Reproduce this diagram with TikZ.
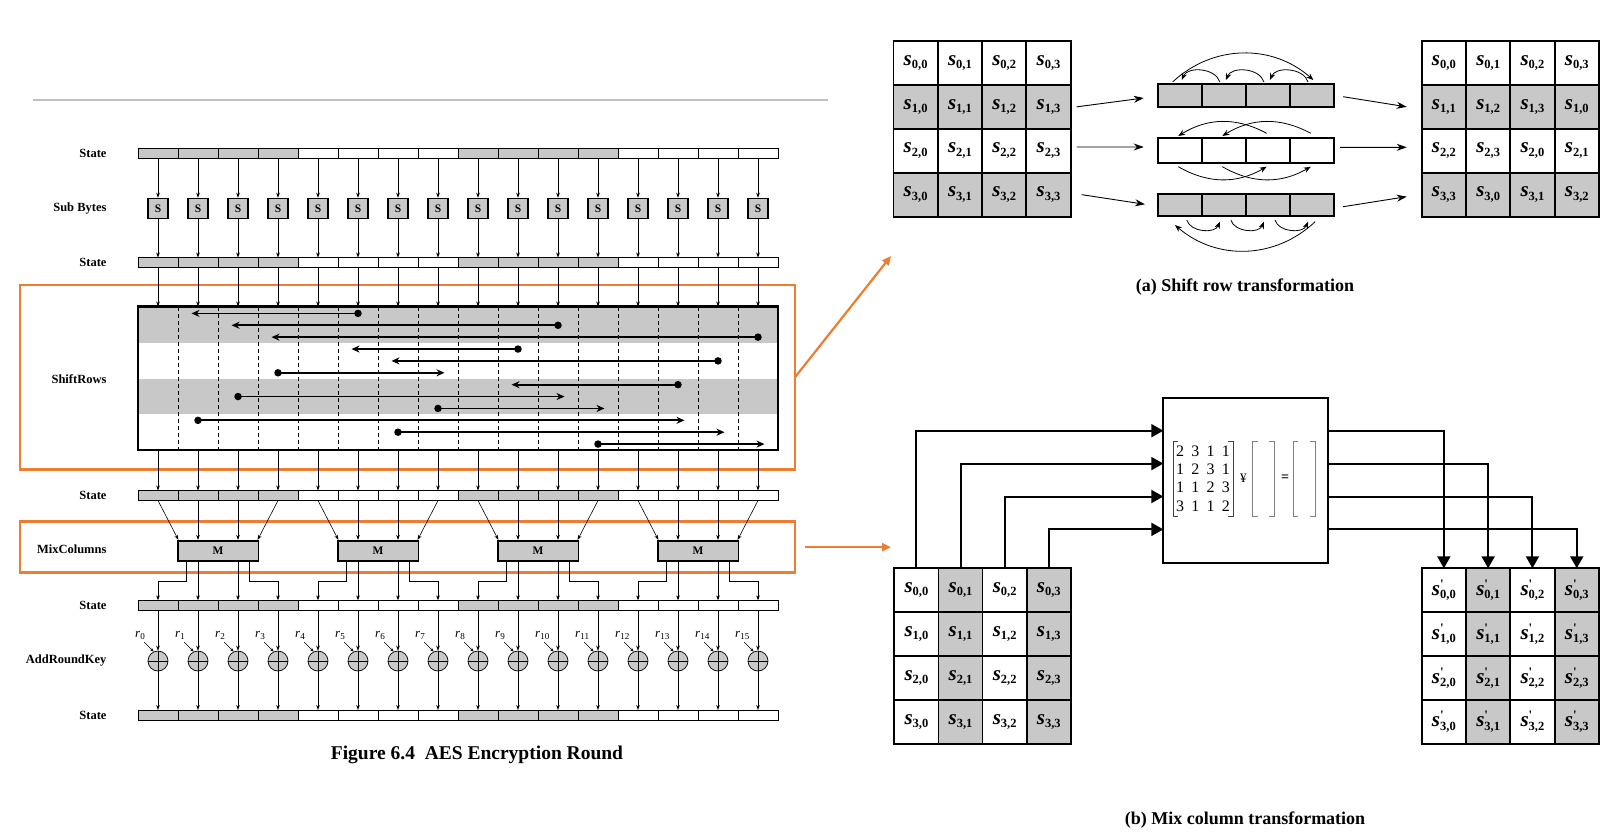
\documentclass[tikz,border=0pt]{standalone}
\usepackage{fontspec}
\setmainfont{Liberation Serif}
\usetikzlibrary{arrows.meta,positioning}
\definecolor{cgray}{RGB}{200,200,200}
\definecolor{lgray}{RGB}{192,192,192}
\definecolor{corange}{RGB}{237,125,49}

\newcommand\sv[1]{{\fontsize{21}{21}\selectfont\bfseries\itshape s}\raisebox{-3.5pt}{\fontsize{12.5}{12.5}\selectfont\bfseries #1}}
\newcommand\svp[1]{{\fontsize{21}{21}\selectfont\bfseries\itshape s}\rlap{\raisebox{7pt}{\fontsize{13}{13}\selectfont\bfseries\textquotesingle}}\raisebox{-3.5pt}{\fontsize{12.5}{12.5}\selectfont\bfseries #1}}

\tikzset{
  lab/.style={anchor=east, font=\bfseries\fontsize{12.5}{14}\selectfont},
  stcell/.style={draw, line width=0.7pt, minimum width=40pt, minimum height=10pt, inner sep=0pt, outer sep=0pt},
  subs/.style={draw, line width=1.6pt, fill=cgray, minimum size=20pt, inner sep=0pt, font=\bfseries\fontsize{11.5}{11.5}\selectfont},
  mixm/.style={draw, line width=1.6pt, fill=cgray, minimum width=80.6pt, minimum height=20pt, inner sep=0pt, font=\bfseries\fontsize{11.5}{11.5}\selectfont},
  xorc/.style={circle, draw, line width=0.7pt, fill=cgray, minimum size=20pt, inner sep=0pt},
  parr/.style={line width=0.6pt, -{Stealth[length=5pt,width=3.6pt]}},
  karr/.style={line width=0.6pt, -{Stealth[length=4pt,width=3pt]}},
  srarr/.style={line width=1.8pt, -{Stealth[length=8pt,width=7pt]}},
  sdot/.style={circle, fill, minimum size=7.5pt, inner sep=0pt},
  obox/.style={draw=corange, line width=2.6pt, inner sep=0pt, outer sep=0pt},
  oarr/.style={corange, line width=2.2pt, -{Triangle[length=9pt,width=8pt]}},
  mcell/.style={draw, line width=1.8pt, minimum width=44.3pt, minimum height=43.9pt, inner sep=0pt, outer sep=0pt},
  tarr/.style={line width=0.9pt, -{Stealth[length=10pt,width=7pt]}},
  carr/.style={line width=0.8pt, -{Stealth[length=7pt,width=5.5pt]}},
  bigarr/.style={line width=2pt, -{Triangle[length=12pt,width=13pt]}},
  mnum/.style={font=\fontsize{16}{16}\selectfont, inner sep=0pt},
  captxt/.style={font=\bfseries\fontsize{18}{20}\selectfont},
}

\begin{document}
\begin{tikzpicture}[x=1pt, y=-1pt]
\useasboundingbox (0,0) rectangle (1607,833);
\draw[lgray, line width=2pt] (33,99.5) -- (828,99.5);
% orange frames
\node[obox, minimum width=775pt, minimum height=184.5pt] (osr) at (407.5,377.25) {};
\node[obox, minimum width=775pt, minimum height=51pt] (omc) at (407.5,547.2) {};

% state rows
\foreach \n/\y in {st1/153, st2/262.5, st3/495.5, st4/605.3, st5/715}{
  \foreach \i in {0,...,15}{
    \pgfmathtruncatemacro\g{mod(\i,8)<4}
    \ifnum\g=1 \def\cf{cgray}\else\def\cf{white}\fi
    \node[stcell, fill=\cf] (\n-\i) at (158+40*\i,\y) {};
  }
  \node[lab] (\n-lab) at (110,\y) {State};
}
\node[lab] (lsub) at (110,208.5) {Sub Bytes};
\node[lab] (lsr) at (110,379) {ShiftRows};
\node[lab] (lmc) at (110,549) {MixColumns};
\node[lab] (lark) at (110,660.7) {AddRoundKey};

% sub bytes
\foreach \i in {0,...,15}{
  \node[subs] (sb-\i) at (158+40*\i,208.5) {S};
  \draw[parr] (st1-\i.south) -- (sb-\i.north);
  \draw[parr] (sb-\i.south) -- (st2-\i.north);
}

% shift rows
\fill[cgray] (138,306.5) rectangle (778,343.1);
\fill[cgray] (138,379.4) rectangle (778,414.4);
\foreach \j in {0,...,14}
  \draw[line width=0.7pt, dash pattern=on 4pt off 3pt] (178+40*\j,306.5) -- (178+40*\j,450);
\node[draw, line width=2.5pt, minimum width=640pt, minimum height=143.5pt, inner sep=0pt, outer sep=0pt] (srb) at (458,378.25) {};
\foreach \i in {0,...,15}{
  \draw[parr] (st2-\i.south) -- (st2-\i.south |- srb.north);
  \draw[parr] (st3-\i.north |- srb.south) -- (st3-\i.north);
}
\foreach \a/\b [count=\k from 0] in {5/1,10/2,15/3,9/5,14/6,3/7,13/9,2/10,7/11,1/13,6/14,11/15}{
  \pgfmathsetmacro\yy{313.4+11.88*\k}
  \pgfmathsetmacro\tx{158+40*\b+13*(\b>\a)-6.5}
  \node[sdot] (d\k) at (158+40*\a,\yy) {};
  \coordinate (t\k) at (\tx,\yy);
  \draw[srarr] (d\k.center) -- (t\k);
}

% mix columns
\foreach \m in {0,...,3}{
  \pgfmathtruncatemacro\ca{4*\m}
  \pgfmathtruncatemacro\cb{4*\m+1}
  \pgfmathtruncatemacro\cc{4*\m+2}
  \pgfmathtruncatemacro\cd{4*\m+3}
  \node[mixm] (mx\m) at (218+160*\m,550.7) {M};
  \draw[parr] (st3-\ca.south) -- ([xshift=1.5pt]mx\m.north west);
  \draw[parr] (st3-\cd.south) -- ([xshift=-1.5pt]mx\m.north east);
  \foreach \c in {\cb,\cc}{
    \draw[parr] (st3-\c.south) -- (st3-\c.south |- mx\m.north);
    \draw[parr] (st4-\c.north |- mx\m.south) -- (st4-\c.north);
  }
  \draw[parr] ([xshift=-31.3pt]mx\m.south) -- ++(0,19.3) -| (st4-\ca.north);
  \draw[parr] ([xshift=31.3pt]mx\m.south) -- ++(0,19.3) -| (st4-\cd.north);
}

% add round key
\foreach \i in {0,...,15}{
  \node[xorc] (x\i) at (158+40*\i,661) {};
  \draw[line width=0.7pt] (x\i.north) -- (x\i.south) (x\i.west) -- (x\i.east);
  \node[anchor=base west, font=\fontsize{13}{13}\selectfont, inner sep=0pt] (r\i) at (135+40*\i,637.5) {\textit{r}\textsubscript{\i}};
  \draw[karr] ([xshift=-14pt,yshift=19pt]x\i.center) -- (x\i.115);
  \draw[parr] (st4-\i.south) -- (x\i.north);
  \draw[parr] (x\i.south) -- (st5-\i.north);
}
\node[captxt, font=\bfseries\fontsize{19.5}{22}\selectfont] (fig) at (477,755) {Figure 6.4\ \ AES Encryption Round};

% shift row transformation
\foreach \r in {0,...,3}{
  \foreach \c in {0,...,3}{
    \pgfmathtruncatemacro\g{mod(\r,2)}
    \pgfmathtruncatemacro\cz{mod(\c+\r,4)}
    \ifnum\g=1 \def\cf{cgray}\else\def\cf{white}\fi
    \node[mcell, fill=\cf] (lm-\r-\c) at (915.6+44.3*\c,62.95+43.9*\r) {\sv{\r,\c}};
    \node[mcell, fill=\cf] (rm-\r-\c) at (1443.85+44.3*\c,62.95+43.9*\r) {\sv{\r,\cz}};
  }
}
\foreach \w/\y/\h/\f in {1/95.5/22.4/cgray, 2/150.5/25.6/white, 3/205.2/21.7/cgray}{
  \foreach \c in {0,...,3}
    \node[mcell, minimum width=44.1pt, minimum height=\h pt, fill=\f] (rw\w-\c) at (1179.75+44.1*\c,\y) {};
}
\draw[tarr] ([xshift=6pt]lm-1-3.east) -- ([xshift=-14pt,yshift=-2.5pt]rw1-0.west);
\draw[tarr] ([xshift=6pt,yshift=3.75pt]lm-2-3.east) -- ([xshift=-14pt,yshift=3.5pt]rw2-0.west);
\draw[tarr] ([xshift=11pt]lm-3-3.east) -- ([xshift=-12.7pt,yshift=0.9pt]rw3-0.west);
\draw[tarr] ([xshift=9pt,yshift=-1.2pt]rw1-3.east) -- ([xshift=-15pt]rm-1-0.west);
\draw[tarr] ([xshift=6pt,yshift=3.2pt]rw2-3.east) -- ([xshift=-15pt,yshift=3.45pt]rm-2-0.west);
\draw[tarr] ([xshift=9pt,yshift=-1.5pt]rw3-3.east) -- ([xshift=-15pt,yshift=-2pt]rm-3-0.west);
\foreach \c/\p in {1/0,2/1,3/2}
  \draw[carr] ([xshift=-4pt,yshift=2.3pt]rw1-\c.north) to[bend right=70] ([xshift=2pt,yshift=4.3pt]rw1-\p.north);
\draw[carr] ([xshift=-7pt,yshift=2.5pt]rw1-0.north) to[bend left=42] ([xshift=1.3pt,yshift=4.3pt]rw1-3.north);
\foreach \c/\p in {2/0,3/1}{
  \draw[carr] ([xshift=-1.3pt,yshift=4.4pt]rw2-\c.north) to[bend right=30] ([xshift=-1.5pt,yshift=1.7pt]rw2-\p.north);
  \draw[carr] ([xshift=-1.5pt,yshift=-3.4pt]rw2-\p.south) to[bend right=30] ([xshift=-1.3pt,yshift=-3.4pt]rw2-\c.south);
}
\foreach \c/\p in {0/1,1/2,2/3}
  \draw[carr] ([xshift=7pt,yshift=-4pt]rw3-\c.south) to[bend right=70] ([xshift=-4pt,yshift=-5.7pt]rw3-\p.south);
\draw[carr] ([xshift=3pt,yshift=-5.7pt]rw3-3.south) to[bend left=42] ([xshift=-4.75pt,yshift=-9pt]rw3-0.south);
\node[captxt] (capa) at (1245,287.5) {(a) Shift row transformation};

% mix column transformation
\foreach \r in {0,...,3}{
  \foreach \c in {0,...,3}{
    \pgfmathtruncatemacro\g{mod(\c,2)}
    \ifnum\g=1 \def\cf{cgray}\else\def\cf{white}\fi
    \node[mcell, fill=\cf] (mi-\r-\c) at (916.45+44.1*\c,590.25+43.9*\r) {\sv{\r,\c}};
    \node[mcell, fill=\cf] (mo-\r-\c) at (1443.85+44.3*\c,590.25+43.9*\r) {\svp{\r,\c}};
  }
}
\node[draw, line width=2pt, minimum width=165pt, minimum height=164.4pt, inner sep=0pt, outer sep=0pt] (mixbox) at (1245.8,480.5) {};
\foreach \c in {0,...,3}{
  \pgfmathsetmacro\dy{32.4+32.9*\c}
  \draw[bigarr] (mi-0-\c.north) |- ([yshift=-\dy pt]mixbox.north west);
  \draw[bigarr] ([yshift=-\dy pt]mixbox.north east) -| (mo-0-\c.north);
}
\foreach \row [count=\r from 0] in {{2,3,1,1},{1,2,3,1},{1,1,2,3},{3,1,1,2}}{
  \foreach \v [count=\c from 0] in \row
    \node[mnum] (mv-\r-\c) at (1180+15.3*\c,451+18.3*\r) {\v};
}
\draw[line width=0.8pt, black!75] (1178.3,441.7) -| (1173.3,516.7) -- (1178.3,516.7);
\draw[line width=0.8pt, black!75] (1228.3,441.7) -| (1233.3,516.7) -- (1228.3,516.7);
\foreach \l/\rr in {1252.7/1274.3, 1293.3/1315}{
  \draw[line width=0.8pt, gray] (\l+5,441.7) -| (\l,516.7) -- (\l+5,516.7);
  \draw[line width=0.8pt, gray] (\rr-5,441.7) -| (\rr,516.7) -- (\rr-5,516.7);
}
\node[font=\fontsize{13}{13}\selectfont, inner sep=0pt] (times) at (1243.3,478.3) {¥};
\node[font=\bfseries\fontsize{14}{14}\selectfont, inner sep=0pt] (eq) at (1285,478.5) {=};
\node[captxt] (capb) at (1245,820) {(b) Mix column transformation};

% links between the parts
\coordinate (shtip) at (891,256);
\draw[oarr] (osr.east) -- (shtip);
\coordinate (mctip) at (891,547.2);
\draw[oarr] ([xshift=10pt]omc.east) -- (mctip);
\end{tikzpicture}
\end{document}
